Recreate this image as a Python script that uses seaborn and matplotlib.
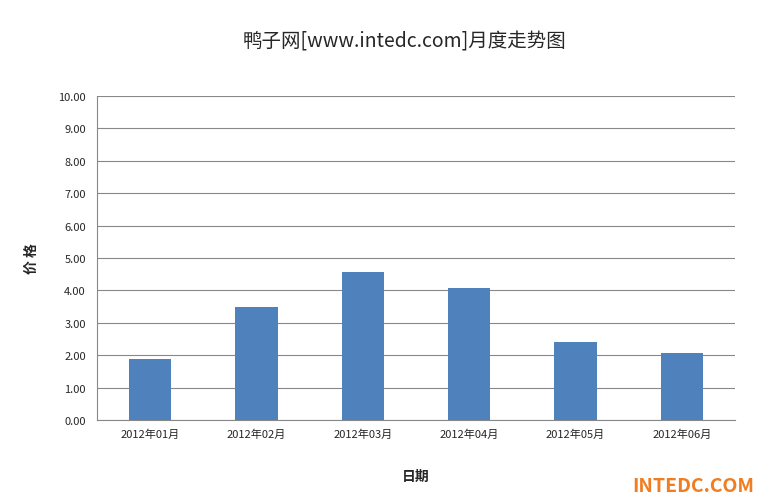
import matplotlib
matplotlib.use("Agg")
import matplotlib.pyplot as plt
import seaborn as sns
import pandas as pd

months = ["2012年01月", "2012年02月", "2012年03月", "2012年04月", "2012年05月", "2012年06月"]
prices = [1.88, 3.49, 4.56, 4.07, 2.41, 2.07]
yticks = [0, 1, 2, 3, 4, 5, 6, 7, 8, 9, 10]

sns.set_style("white")
plt.rcParams['font.family'] = ['Noto Sans CJK SC', 'DejaVu Sans']

fig = plt.figure(figsize=(7.78, 5.02), dpi=100)
ax = fig.add_axes([97/778, 81/502, 638/778, 324/502])
df = pd.DataFrame({"m": months, "p": prices})
sns.barplot(data=df, x="m", y="p", color="#4F81BD", saturation=1, width=0.4,
            edgecolor="none", linewidth=0, ax=ax)
ax.set_ylim(0, 10)
ax.set_yticks(yticks)
ax.set_yticklabels([f"{v:.2f}" for v in yticks], fontsize=8)
ax.tick_params(axis='x', labelsize=8, length=0, pad=6)
ax.tick_params(axis='y', length=4, pad=4)
ax.grid(axis='y', color='#888888', linewidth=0.8)
ax.set_axisbelow(True)
for s in ["top", "right"]:
    ax.spines[s].set_visible(False)
for s in ["left", "bottom"]:
    ax.spines[s].set_color('#888888')
ax.set_xlabel("日期", fontsize=10, fontweight='bold', labelpad=22)
ax.set_ylabel("价 格", fontsize=10, fontweight='bold', labelpad=14)
fig.text(0.52, 0.905, "鸭子网[www.intedc.com]月度走势图", ha='center', fontsize=14)
fig.text(0.97, 0.02, "INTEDC.COM", ha='right', fontsize=14, fontweight='bold', color='#F07D22')
fig.savefig("out.png", dpi=100)
